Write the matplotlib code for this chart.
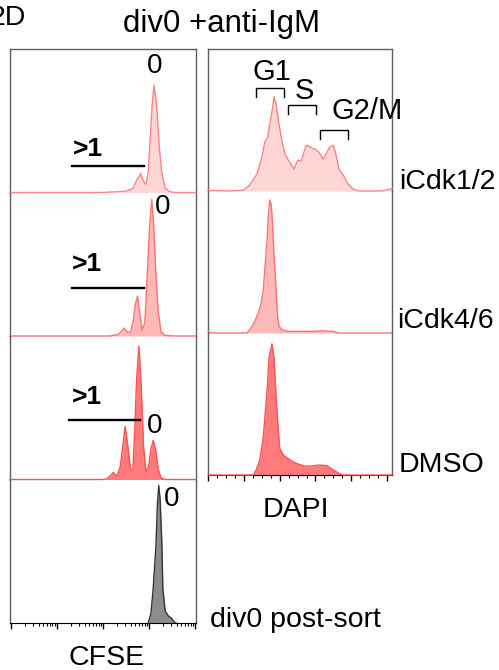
import numpy as np
import matplotlib
matplotlib.use("Agg")
import matplotlib.pyplot as plt
from matplotlib.ticker import LogLocator, MultipleLocator, NullFormatter

plt.rcParams['font.family'] = ['Liberation Sans', 'DejaVu Sans']

# ---------------- data ----------------
# CFSE histograms (x as log10 CFSE, y as relative counts)
cfse_icdk12_x = [0.98, 2.96, 3.28, 3.50, 3.65, 3.73, 3.82, 3.88, 3.93, 3.98, 4.02, 4.07, 4.11, 4.17, 4.22, 4.28, 4.35, 4.46, 4.57, 5.02]
cfse_icdk12_y = [0, 0, 0.7, 1.3, 4, 12, 19, 11, 8, 19, 49, 89, 107, 83, 46, 19, 4, 0.7, 0, 0]

cfse_icdk46_x = [0.98, 3.15, 3.33, 3.41, 3.46, 3.53, 3.60, 3.66, 3.70, 3.75, 3.79, 3.85, 3.91, 3.96, 4.01, 4.06, 4.10, 4.15, 4.20, 4.26, 4.35, 4.57, 5.02]
cfse_icdk46_y = [0, 0, 1.5, 5, 8, 4, 3.7, 16, 31, 40, 26, 6, 14, 61, 108, 136, 111, 61, 24, 4, 0.5, 0, 0]

cfse_dmso_x = [0.98, 3.0, 3.08, 3.17, 3.22, 3.30, 3.37, 3.43, 3.48, 3.54, 3.60, 3.65, 3.69, 3.73, 3.78, 3.83, 3.88, 3.93, 3.99, 4.04, 4.09, 4.15, 4.20, 4.26, 4.35, 5.02]
cfse_dmso_y = [0, 0, 0.7, 4, 7, 3.3, 11.7, 33, 53, 33, 10, 10, 50, 100, 133, 93, 33, 8, 13, 30, 39, 28, 10, 1.7, 0, 0]

cfse_postsort_x = [3.98, 4.04, 4.09, 4.15, 4.18, 4.21, 4.24, 4.28, 4.30, 4.35, 4.42, 4.49, 4.55, 4.59]
cfse_postsort_y = [0, 9, 34, 77, 117, 137, 124, 77, 34, 12, 7, 4.7, 0.7, 0]

# DAPI histograms (x in linear DAPI units, y relative counts)
dapi_icdk12_x = [0, 28, 49, 58, 68, 75, 79, 83, 86, 90, 92, 95, 99, 104, 108, 114, 120, 125, 130, 133, 137, 141, 146, 150, 155, 161, 166, 170, 175, 178, 183, 189, 195, 202, 210, 243, 257]
dapi_icdk12_y = [0.7, 0, 0.7, 6, 17, 34, 49, 54, 67, 84, 95, 87, 67, 47, 36, 29, 22, 31, 30, 37, 46, 45, 43, 42, 39, 32, 39, 44, 46, 39, 22, 16, 7.7, 2.3, 0, 0, 2.3]

dapi_icdk46_x = [0, 4.7, 54, 58, 64, 70, 74, 77, 79, 82, 84, 86, 88, 90, 92, 95, 97, 99, 103, 112, 150, 160, 168, 175, 182, 257]
dapi_icdk46_y = [1.7, 0, 0, 3.3, 10, 20, 30, 43, 63, 90, 117, 134, 130, 110, 77, 43, 17, 7, 3.3, 1.7, 1.7, 2.5, 1.7, 1.7, 0, 0]

dapi_dmso_x = [0, 63, 67, 72, 77, 80, 83, 85, 89, 92, 95, 98, 100, 105, 111, 119, 126, 135, 144, 154, 166, 175, 182, 188, 257]
dapi_dmso_y = [0, 0, 5, 15, 38, 65, 92, 118, 132, 118, 78, 45, 27, 20, 17, 13, 11, 9, 9, 10, 9.5, 5, 2, 0, 0]

row_labels = ['iCdk1/2', 'iCdk4/6', 'DMSO', 'div0 post-sort']

# ---------------- figure ----------------
W, H = 499, 670
fig = plt.figure(figsize=(W / 100, H / 100), dpi=100)


def px_axes(x0, y0, x1, y1):
    return fig.add_axes([x0 / W, 1 - y1 / H, (x1 - x0) / W, (y1 - y0) / H])


frame_col = '#5e5e5e'
styles = [
    dict(fc='#ffd6d6', ec='#ff8585'),
    dict(fc='#ffb8b8', ec='#ff7373'),
    dict(fc='#ff7b7b', ec='#ff5252'),
    dict(fc='#8c8c8c', ec='#333333'),
]

cfse_sets = [(cfse_icdk12_x, cfse_icdk12_y), (cfse_icdk46_x, cfse_icdk46_y),
             (cfse_dmso_x, cfse_dmso_y), (cfse_postsort_x, cfse_postsort_y)]
dapi_sets = [(dapi_icdk12_x, dapi_icdk12_y), (dapi_icdk46_x, dapi_icdk46_y),
             (dapi_dmso_x, dapi_dmso_y)]

# left column: 4 panels from y=49 to 623
ltop, lbot = 49, 623
lh = (lbot - ltop) / 4
left_axes = []
for i, (xs, ys) in enumerate(cfse_sets):
    ax = px_axes(10, ltop + i * lh, 196, ltop + (i + 1) * lh)
    xv = np.power(10.0, xs)
    st = styles[i]
    ax.fill_between(xv, 0, ys, color=st['fc'], lw=0)
    ax.plot(xv, ys, color=st['ec'], lw=1.0, clip_on=False, zorder=3)
    ax.set_xscale('log')
    ax.set_xlim(10 ** 0.98, 10 ** 5.02)
    ax.set_ylim(0, 143)
    ax.set_yticks([])
    for s in ['left', 'right', 'top']:
        ax.spines[s].set_color(frame_col)
        ax.spines[s].set_linewidth(1.0)
    ax.spines['top'].set_visible(i == 0)
    ax.spines['bottom'].set_visible(i == 3)
    if i == 3:
        ax.spines['bottom'].set_color('black')
        ax.xaxis.set_major_locator(LogLocator(base=10, numticks=10))
        ax.xaxis.set_minor_locator(LogLocator(base=10, subs=np.arange(2, 10), numticks=20))
        ax.xaxis.set_major_formatter(NullFormatter())
        ax.xaxis.set_minor_formatter(NullFormatter())
        ax.tick_params(axis='x', which='major', length=4.5, width=1, color='black')
        ax.tick_params(axis='x', which='minor', length=2.3, width=0.8, color='black')
    else:
        ax.set_xticks([])
        ax.xaxis.set_minor_locator(matplotlib.ticker.NullLocator())
    ax.patch.set_alpha(0)
    left_axes.append(ax)

# right column: 3 panels from y=49 to 475
rtop, rbot = 49, 475
rh = (rbot - rtop) / 3
right_axes = []
for i, (xs, ys) in enumerate(dapi_sets):
    ax = px_axes(208.3, rtop + i * rh, 392.3, rtop + (i + 1) * rh)
    st = styles[i]
    ax.fill_between(xs, 0, ys, color=st['fc'], lw=0)
    ax.plot(xs, ys, color=st['ec'], lw=1.0, clip_on=False, zorder=3)
    ax.set_xlim(0, 257.6)
    ax.set_ylim(0, 143)
    ax.set_yticks([])
    for s in ['left', 'right', 'top']:
        ax.spines[s].set_color(frame_col)
        ax.spines[s].set_linewidth(1.0)
    ax.spines['top'].set_visible(i == 0)
    ax.spines['bottom'].set_visible(i == 2)
    if i == 2:
        ax.spines['bottom'].set_color('black')
        ax.xaxis.set_major_locator(MultipleLocator(50))
        ax.xaxis.set_minor_locator(MultipleLocator(12.5))
        ax.xaxis.set_major_formatter(NullFormatter())
        ax.tick_params(axis='x', which='major', length=4.5, width=1, color='black')
        ax.tick_params(axis='x', which='minor', length=2.3, width=0.8, color='black')
    else:
        ax.set_xticks([])
    ax.patch.set_alpha(0)
    right_axes.append(ax)

# ---------------- annotations ----------------
FS = 20.5
gates = [  # (x0_log, x1_log, y_line, label_x_log, label_y)
    (2.33, 3.88, 26, 2.67, 43),
    (2.33, 3.88, 48, 2.65, 72),
    (2.26, 3.80, 59, 2.65, 82),
]
zero_pos = [(4.13, 126), (4.30, 129), (4.13, 53), (4.49, 124)]
for i, (a, b, yl, lx, ly) in enumerate(gates):
    ax = left_axes[i]
    ax.plot([10 ** a, 10 ** b], [yl, yl], color='black', lw=1.7, zorder=4)
    ax.text(10 ** lx, ly, '>1', ha='center', va='center', fontsize=19,
            fontweight='bold')
for i, (zx, zy) in enumerate(zero_pos):
    left_axes[i].text(10 ** zx, zy, '0', ha='center', va='center', fontsize=20)

axr = right_axes[0]
brackets = [(66.4, 105.6, 104, 94.6, 'G1', 89, 120),
            (111.6, 151.2, 86.6, 78, 'S', 134, 101),
            (156.0, 195.2, 61.3, 52, 'G2/M', 223, 81)]
for x0, x1, yt, yb, lab, tx, ty in brackets:
    axr.plot([x0, x0, x1, x1], [yb, yt, yt, yb], color='black', lw=1.0, zorder=4)
    axr.text(tx, ty, lab, ha='center', va='center', fontsize=21, clip_on=False)


def ftext(x, y, s, **kw):
    fig.text(x / W, 1 - y / H, s, **kw)


ftext(26, 25, '2D', ha='right', va='baseline', fontsize=FS)
ftext(222, 32, 'div0 +anti-IgM', ha='center', va='baseline', fontsize=22.5)
ftext(399, 189, row_labels[0], ha='left', va='baseline', fontsize=FS)
ftext(397, 328, row_labels[1], ha='left', va='baseline', fontsize=FS)
ftext(399, 472, row_labels[2], ha='left', va='baseline', fontsize=FS)
ftext(210, 627, row_labels[3], ha='left', va='baseline', fontsize=FS)
ftext(107, 665, 'CFSE', ha='center', va='baseline', fontsize=FS)
ftext(296, 517, 'DAPI', ha='center', va='baseline', fontsize=FS)

fig.savefig('out.png', dpi=100)
